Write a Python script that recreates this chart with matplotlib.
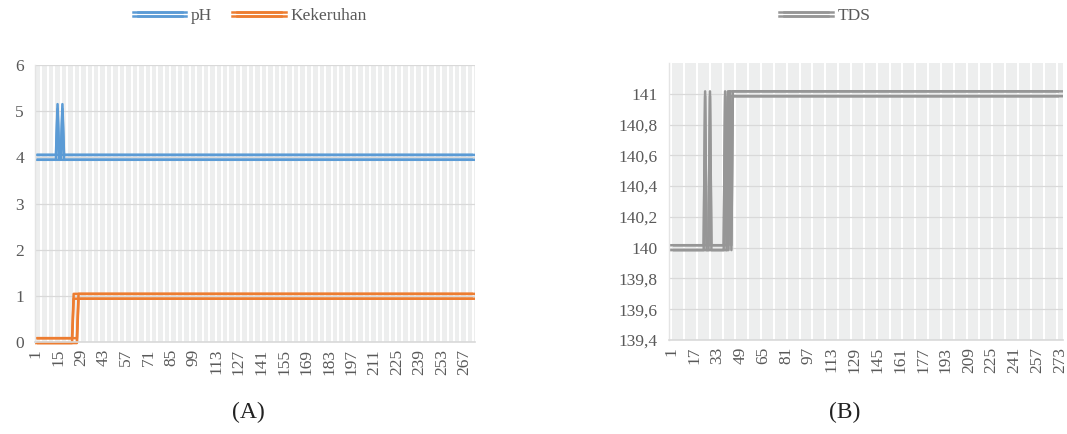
import numpy as np
import matplotlib
matplotlib.use('Agg')
import matplotlib.pyplot as plt
from matplotlib import patheffects as pe
from matplotlib.patches import Rectangle

plt.rcParams['font.family'] = ['Liberation Serif', 'DejaVu Serif']

# readings stored as runs of (value, number of samples)
ph_runs = [(4.0, 15), (5.1, 1), (4.0, 257)]
keruh_runs = [(0.03, 25), (0.99, 248)]
tds_runs = [(140, 25), (141, 1), (140, 13), (141, 1), (140, 1), (141, 232)]

left_ticks = list(range(1, 274, 14))
right_ticks = list(range(1, 274, 16))
tds_ticks = [139.4, 139.6, 139.8, 140.0, 140.2, 140.4, 140.6, 140.8, 141.0]
tds_ticklabels = ['139,4', '139,6', '139,8', '140', '140,2', '140,4', '140,6', '140,8', '141']

BLUE = '#5B9BD5'
ORANGE = '#ED7D31'
GRAY = '#969696'
TXT = '#595959'
BG = '#EDEEEE'
FS = 12.5


def expand(runs):
    return np.concatenate([np.full(n, v, dtype=float) for v, n in runs])


def double_line(color):
    # fake Excel's "double" compound line with four offset strokes
    d, w = 1.75, 1.8
    return [pe.Stroke(offset=(dx, dy), linewidth=w, foreground=color)
            for dx in (-d, d) for dy in (-d, d)]


def clip_rows(ax, line):
    # clip at the left/right edge only, let the strokes spill over vertically
    rect = Rectangle((0, -0.05), 1, 1.1, transform=ax.transAxes,
                     facecolor='none', edgecolor='none')
    line.set_clip_path(rect)


def style_axes(ax, minor_step, xmax):
    ax.set_facecolor(BG)
    ax.set_axisbelow(True)
    ax.set_xticks(np.arange(0.5, xmax, minor_step), minor=True)
    ax.grid(which='minor', axis='x', color='white', lw=1.5)
    ax.grid(which='major', axis='y', color='#D9D9D9', lw=0.9)
    ax.grid(which='major', axis='x', visible=False)
    for s in ['top', 'right']:
        ax.spines[s].set_visible(False)
    ax.spines['bottom'].set_color('#D9D9D9')
    ax.spines['bottom'].set_linewidth(1.2)
    ax.spines['left'].set_color('#E4E4E4')
    ax.spines['left'].set_linewidth(1.0)
    ax.tick_params(which='both', length=0, colors=TXT, labelsize=FS)
    ax.tick_params(axis='y', pad=8)
    ax.tick_params(axis='x', pad=5)
    for lbl in ax.get_xticklabels():
        lbl.set_rotation(90)
        lbl.set_va('top')


ph = expand(ph_runs)
keruh = expand(keruh_runs)
tds = expand(tds_runs)

fig = plt.figure(figsize=(10.67, 4.34), dpi=100)

# (A) pH and turbidity
ax1 = fig.add_axes([35 / 1067, 92 / 434, 440 / 1067, 277 / 434])
x1 = np.arange(1, len(ph) + 1)
l_ph, = ax1.plot(x1, ph, lw=0, label='pH', path_effects=double_line(BLUE))
l_k, = ax1.plot(x1, keruh, lw=0, label='Kekeruhan', path_effects=double_line(ORANGE))
clip_rows(ax1, l_ph)
clip_rows(ax1, l_k)
ax1.set_xlim(0.5, 273.5)
ax1.set_ylim(0, 6)
ax1.set_yticks(range(0, 7))
ax1.set_xticks(left_ticks)
style_axes(ax1, 4, 274)

# (B) TDS
ax2 = fig.add_axes([669 / 1067, 94 / 434, 394 / 1067, 277 / 434])
x2 = np.arange(1, len(tds) + 1)
l_t, = ax2.plot(x2, tds, lw=0, label='TDS', path_effects=double_line(GRAY))
clip_rows(ax2, l_t)
ax2.set_xlim(-1, 275)
ax2.set_ylim(139.4, 141.2)
ax2.set_yticks(tds_ticks)
ax2.set_yticklabels(tds_ticklabels)
ax2.set_xticks(right_ticks)
style_axes(ax2, 9, 276)

fig.legend(handles=[l_ph, l_k], loc='center', bbox_to_anchor=(251 / 1067, 1 - 16 / 434),
           ncol=2, frameon=False, handlelength=2.8, columnspacing=1.3,
           fontsize=FS, labelcolor=TXT, handletextpad=0.4)
fig.legend(handles=[l_t], loc='center', bbox_to_anchor=(826 / 1067, 1 - 16 / 434),
           frameon=False, handlelength=2.8, fontsize=FS, labelcolor=TXT,
           handletextpad=0.4)

fig.text(248 / 1067, 1 - 412 / 434, '(A)', ha='center', va='center', fontsize=17, color='#222222')
fig.text(845 / 1067, 1 - 412 / 434, '(B)', ha='center', va='center', fontsize=17, color='#222222')

fig.savefig('out.png', dpi=100, facecolor='white')
